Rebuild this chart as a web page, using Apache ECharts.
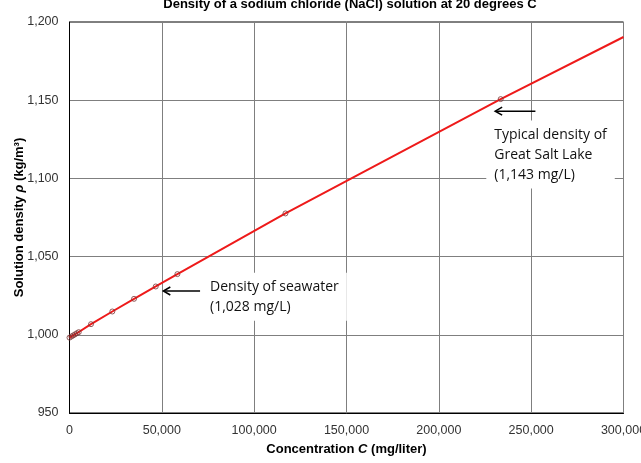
<!DOCTYPE html>
<html>
<head>
<meta charset="utf-8">
<script src="https://cdn.jsdelivr.net/npm/echarts@6/dist/echarts.min.js"></script>
<style>
  html, body { margin: 0; padding: 0; background: #fff; }
  #chart { width: 641px; height: 463px; }
</style>
</head>
<body>
<div id="chart"></div>
<script>
// 数据
var concentration = [0, 1000, 2000, 3000, 4000, 5000, 11650, 23190, 34950, 46710, 58420, 116940, 233500];
var density = [998.2, 998.9, 999.6, 1000.3, 1001.0, 1001.7, 1006.8, 1014.9, 1023.0, 1030.9, 1038.8, 1077.6, 1150.7];
// 趋势线延伸到右边界
var trendX = [300000];
var trendY = [1190.4];
var xTicks = [0, 300000, 50000];
var yTicks = [950, 1200, 50];

var annotations = [
    { text: 'Density of seawater\n(1,028 mg/L)', tip: [50800, 1028], tail: [70700, 1028], at: [71800, 1039.6] },
    { text: 'Typical density of\nGreat Salt Lake\n(1,143 mg/L)', tip: [230500, 1143], tail: [252300, 1143], at: [225700, 1137] }
];

var fmt = function (v) { return v.toLocaleString('en-US'); };

var chart = echarts.init(document.getElementById('chart'));

var points = concentration.map(function (c, i) { return [c, density[i]]; });
var linePts = points.concat(trendX.map(function (c, i) { return [c, trendY[i]]; }));

var option = {
    backgroundColor: '#fff',
    animation: false,
    title: {
        text: 'Density of a sodium chloride (NaCl) solution at 20 degrees C',
        left: 345,
        textAlign: 'center',
        top: -7,
        textStyle: { fontFamily: 'Liberation Sans', fontSize: 13, fontWeight: 'bold', color: '#000' }
    },
    grid: {
        left: 69.5, right: 17.5, top: 22, bottom: 50,
        outerBoundsMode: 'none',
        containLabel: false,
        show: true, borderColor: '#000', borderWidth: 1
    },
    xAxis: {
        type: 'value',
        min: xTicks[0], max: xTicks[1], interval: xTicks[2],
        name: 'Concentration {i|C} (mg/liter)',
        nameLocation: 'middle',
        nameGap: 30,
        nameMoveOverlap: false,
        nameTextStyle: {
            fontFamily: 'Liberation Sans', fontSize: 13, fontWeight: 'bold', color: '#000',
            rich: { i: { fontFamily: 'Liberation Sans', fontSize: 13, fontWeight: 'bold', fontStyle: 'italic', color: '#000' } }
        },
        axisLine: { lineStyle: { color: '#000', width: 1 } },
        axisTick: { show: false },
        axisLabel: { fontFamily: 'Liberation Sans', fontSize: 12.5, color: '#333', margin: 11, formatter: fmt },
        splitLine: { lineStyle: { color: '#7f7f7f', width: 1 } }
    },
    yAxis: {
        type: 'value',
        min: yTicks[0], max: yTicks[1], interval: yTicks[2],
        name: 'Solution density {i|ρ} (kg/m³)',
        nameLocation: 'middle',
        nameGap: 44,
        nameMoveOverlap: false,
        nameTextStyle: {
            fontFamily: 'Liberation Sans', fontSize: 13, fontWeight: 'bold', color: '#000',
            rich: { i: { fontFamily: 'Liberation Sans', fontSize: 13, fontWeight: 'bold', fontStyle: 'italic', color: '#000' } }
        },
        axisLine: { show: true, lineStyle: { color: '#000', width: 1 } },
        axisTick: { show: false },
        axisLabel: { fontFamily: 'Liberation Sans', fontSize: 12.5, color: '#333', margin: 11, formatter: fmt },
        splitLine: { lineStyle: { color: '#7f7f7f', width: 1 } }
    },
    series: [
        {
            type: 'line',
            data: linePts,
            showSymbol: false,
            lineStyle: { color: '#ee1a1a', width: 2 },
            z: 3
        },
        {
            type: 'scatter',
            data: points,
            symbol: 'circle',
            symbolSize: 5,
            itemStyle: { color: 'rgba(0,0,0,0)', borderColor: '#7a3434', borderWidth: 1 },
            z: 4
        }
    ]
};
chart.setOption(option);

// 注释：文字框 + 箭头
var graphics = [];
annotations.forEach(function (a) {
    var p = chart.convertToPixel({ gridIndex: 0 }, a.at);
    var tip = chart.convertToPixel({ gridIndex: 0 }, a.tip);
    var tail = chart.convertToPixel({ gridIndex: 0 }, a.tail);
    graphics.push({
        type: 'text', x: p[0], y: p[1], z: 10,
        style: {
            text: a.text, fill: '#111', font: '14px "Open Sans"', lineHeight: 20,
            backgroundColor: '#fff', padding: [4, 8, 4, 8]
        }
    });
    graphics.push({
        type: 'line', z: 11,
        shape: { x1: tail[0], y1: tail[1], x2: tip[0] + 1, y2: tip[1] },
        style: { stroke: '#000', lineWidth: 1.5 }
    });
    graphics.push({
        type: 'polyline', z: 11,
        shape: { points: [[tip[0] + 7, tip[1] - 4], [tip[0], tip[1]], [tip[0] + 7, tip[1] + 4]] },
        style: { stroke: '#000', lineWidth: 1.5, fill: null }
    });
});
chart.setOption({ graphic: graphics });
</script>
</body>
</html>
